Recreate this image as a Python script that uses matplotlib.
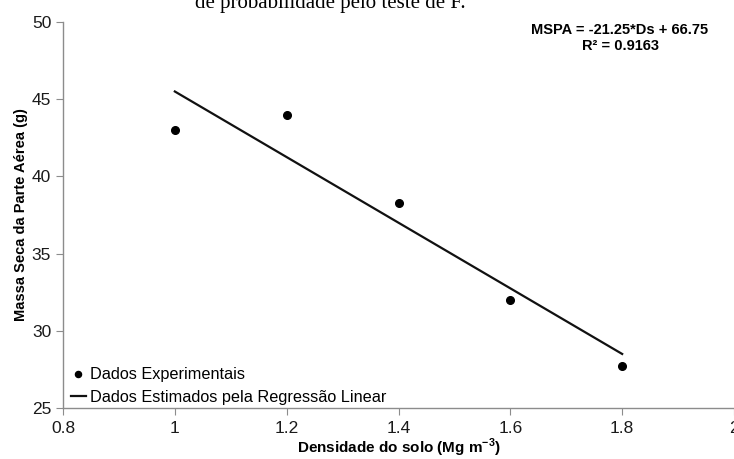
import numpy as np
import matplotlib.pyplot as plt

# densidade do solo (Mg m-3) e massa seca da parte aérea (g)
densidade = [1.0, 1.2, 1.4, 1.6, 1.8]
mspa = [43.0, 44.0, 38.25, 32.0, 27.75]

# coeficientes da regressão linear
a, b = -21.25, 66.75
r2 = 0.9163

plt.rcParams['font.family'] = ['Liberation Sans', 'DejaVu Sans']
plt.rcParams['mathtext.fontset'] = 'custom'
plt.rcParams['mathtext.rm'] = 'Liberation Sans:bold'
plt.rcParams['mathtext.bf'] = 'Liberation Sans:bold'

fig = plt.figure(figsize=(7.34, 4.59), dpi=100)
ax = fig.add_axes([63 / 734, 1 - 408 / 459, 1 - 63 / 734, (408 - 22) / 459])

xs = np.array([densidade[0], densidade[-1]])
ax.plot(densidade, mspa, 'o', color='black', ms=5.5, label='Dados Experimentais')
ax.plot(xs, a * xs + b, '-', color='#111111', lw=1.6,
        label='Dados Estimados pela Regressão Linear')

ax.set_xlim(0.8, 2)
ax.set_ylim(25, 50)
ax.set_xticks([0.8, 1, 1.2, 1.4, 1.6, 1.8, 2])
ax.set_xticklabels(['0.8', '1', '1.2', '1.4', '1.6', '1.8', '2'])
ax.set_yticks([25, 30, 35, 40, 45, 50])

for s in ['top', 'right']:
    ax.spines[s].set_visible(False)
for s in ['left', 'bottom']:
    ax.spines[s].set_color('#8c8c8c')
    ax.spines[s].set_linewidth(1.0)
ax.tick_params(axis='both', colors='#8c8c8c', labelcolor='#1a1a1a',
               labelsize=12.5, length=5, direction='out')
ax.tick_params(axis='x', pad=4.5)

ax.set_xlabel('Densidade do solo (Mg m$^{\\mathrm{-3}}$)', fontsize=11, fontweight='bold', labelpad=0.5)
ax.set_ylabel('Massa Seca da Parte Aérea (g)', fontsize=10.5, fontweight='bold', labelpad=3)

ax.text(620 / 734, 1 - 38 / 459, 'MSPA = -21.25*Ds + 66.75\nR² = 0.9163',
        transform=fig.transFigure, ha='center', va='center',
        fontsize=10.5, fontweight='bold', linespacing=1.15)

leg = ax.legend(loc='lower left', bbox_to_anchor=(0.0, -0.012), frameon=False,
                fontsize=11.7, handlelength=0.9, handletextpad=0.25,
                borderaxespad=0.1, labelspacing=0.45, markerscale=0.8)

# trecho final do parágrafo acima da figura
fig.text(330 / 734, 1 - 8 / 459, 'de probabilidade pelo teste de F.',
         family=['Liberation Serif', 'DejaVu Serif'], fontsize=15,
         ha='center', va='baseline')

fig.savefig('out.png', dpi=100)
